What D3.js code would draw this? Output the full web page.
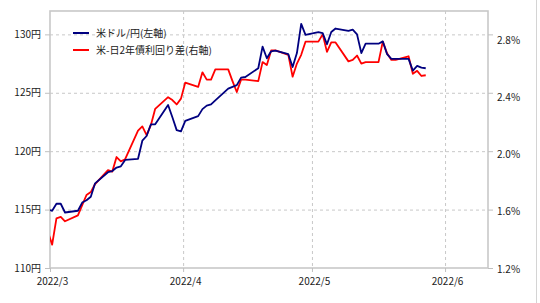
<!DOCTYPE html>
<html><head><meta charset="utf-8">
<script src="https://cdn.jsdelivr.net/npm/d3@7"></script>
<style>
html,body{margin:0;padding:0;background:#fff;}
svg{display:block;font-family:"Noto Sans CJK JP","Noto Sans",sans-serif;}
</style></head>
<body><svg id="c" width="540" height="303"></svg>
<script>
const dates = ["2022-02-28","2022-03-01","2022-03-02","2022-03-03","2022-03-04","2022-03-07","2022-03-08","2022-03-09","2022-03-10","2022-03-11",
"2022-03-14","2022-03-15","2022-03-16","2022-03-17","2022-03-18","2022-03-21","2022-03-22","2022-03-23","2022-03-24","2022-03-25",
"2022-03-28","2022-03-29","2022-03-30","2022-03-31","2022-04-01","2022-04-04","2022-04-05","2022-04-06","2022-04-07","2022-04-08",
"2022-04-11","2022-04-12","2022-04-13","2022-04-14","2022-04-15","2022-04-18","2022-04-19","2022-04-20","2022-04-21","2022-04-22",
"2022-04-25","2022-04-26","2022-04-27","2022-04-28","2022-04-29","2022-05-02","2022-05-03","2022-05-04","2022-05-05","2022-05-06",
"2022-05-09","2022-05-10","2022-05-11","2022-05-12","2022-05-13","2022-05-16","2022-05-17","2022-05-18","2022-05-19","2022-05-20",
"2022-05-23","2022-05-24","2022-05-25","2022-05-26","2022-05-27"];
const usdjpy = [115.0,114.9,115.5,115.5,114.75,114.9,115.6,115.8,116.1,117.25,
118.2,118.3,118.6,118.7,119.25,119.35,120.9,121.3,122.3,122.3,
123.95,122.9,121.8,121.7,122.6,123.0,123.6,123.9,124.0,124.35,
125.35,125.5,125.65,126.3,126.35,127.1,128.95,127.95,128.55,128.6,
128.3,127.2,128.4,130.9,129.95,130.2,130.1,129.15,130.2,130.5,
130.3,130.4,130.0,128.4,129.2,129.2,129.4,128.3,127.9,127.9,
127.9,126.9,127.3,127.15,127.1];
const spread = [1.45,1.36,1.54,1.55,1.52,1.56,1.63,1.70,1.72,1.775,
1.87,1.86,1.96,1.93,1.945,2.14,2.17,2.11,2.18,2.29,
2.37,2.35,2.32,2.36,2.47,2.44,2.54,2.49,2.49,2.56,
2.56,2.48,2.405,2.49,2.49,2.48,2.61,2.59,2.69,2.69,
2.66,2.51,2.60,2.66,2.75,2.75,2.80,2.68,2.745,2.745,
2.615,2.625,2.655,2.60,2.61,2.61,2.75,2.67,2.625,2.625,
2.65,2.53,2.55,2.515,2.52];
const leftTicks = [110,115,120,125,130];
const rightTicks = [1.2,1.6,2.0,2.4,2.8];
const monthTicks = ["2022-03-01","2022-04-01","2022-05-01","2022-06-01"];
const seriesNames = ["米ドル/円(左軸)","米-日2年債利回り差(右軸)"];
const seriesColors = ["#000080","#ff0000"];

const parse = d3.timeParse("%Y-%m-%d");
const svg = d3.select("#c");
const L=50,R=488,T=11,B=268;
const x = d3.scaleTime().domain([parse("2022-03-01"), parse("2022-06-11")]).range([L,R]);
const yL = d3.scaleLinear().domain([110,132]).range([B,T]);
const yR = d3.scaleLinear().domain([1.2,2.96]).range([B,T]);
const yRlab = d3.scaleLinear().domain([1.2,2.8]).range([B+1,T+29]);
const mid = d => d3.timeHour.offset(parse(d),12);

// outer frame line
svg.append("line").attr("x1",536.5).attr("x2",536.5).attr("y1",0).attr("y2",303).attr("stroke","#d4d4d4").attr("stroke-width",1);

// gridlines
const g = svg.append("g");
g.selectAll("line.h").data(leftTicks.filter(v=>v>110)).join("line")
 .attr("x1",L).attr("x2",R).attr("y1",d=>yL(d)+0.5).attr("y2",d=>yL(d)+0.5)
 .attr("stroke","#c8c8c8").attr("stroke-dasharray","3,3");
g.selectAll("line.v").data(monthTicks.slice(1)).join("line")
 .attr("x1",d=>x(parse(d))+0.5).attr("x2",d=>x(parse(d))+0.5).attr("y1",T).attr("y2",B)
 .attr("stroke","#c8c8c8").attr("stroke-dasharray","3,3");

// plot frame
svg.append("rect").attr("x",L).attr("y",T).attr("width",R-L).attr("height",B-T)
 .attr("fill","none").attr("stroke","#c8c8c8").attr("stroke-width",1.6);

// axes
const axL = svg.append("g").attr("transform",`translate(${L},0)`)
 .call(d3.axisLeft(yL).tickValues(leftTicks).tickFormat(d=>d+"円").tickSize(5).tickPadding(4));
const axR = svg.append("g").attr("transform",`translate(${R},0)`)
 .call(d3.axisRight(yR).tickValues(rightTicks).tickFormat(d=>d.toFixed(1)+"%").tickSize(5).tickPadding(4));
axR.selectAll("text").attr("y",d=>yRlab(d)-yR(d));
const axB = svg.append("g").attr("transform",`translate(0,${B})`)
 .call(d3.axisBottom(x).tickValues(monthTicks.map(parse)).tickFormat(d3.timeFormat("%Y/%-m")).tickSize(4).tickPadding(6));
axB.selectAll("text").attr("dx",2);
[axL,axR,axB].forEach(a=>{
  a.select(".domain").remove();
  a.selectAll("line").attr("stroke","#c0c0c0");
  a.selectAll("text").attr("fill","#222").style("font-size","10px").style("font-family",'"Noto Sans CJK JP",sans-serif');
});

// clip
svg.append("clipPath").attr("id","clip").append("rect").attr("x",L).attr("y",T).attr("width",R-L).attr("height",B-T);

const lineL = d3.line().x((d,i)=>x(mid(dates[i]))).y(d=>yL(d));
const lineR = d3.line().x((d,i)=>x(mid(dates[i]))).y(d=>yR(d));
const lg = svg.append("g").attr("clip-path","url(#clip)");
lg.append("path").datum(spread).attr("d",lineR).attr("fill","none").attr("stroke",seriesColors[1]).attr("stroke-width",1.8).attr("stroke-linejoin","round");
lg.append("path").datum(usdjpy).attr("d",lineL).attr("fill","none").attr("stroke",seriesColors[0]).attr("stroke-width",1.8).attr("stroke-linejoin","round");

// legend
const leg = svg.append("g");
seriesNames.forEach((n,i)=>{
  const yy = 33 + i*17;
  leg.append("line").attr("x1",73).attr("x2",89).attr("y1",yy).attr("y2",yy).attr("stroke",seriesColors[i]).attr("stroke-width",2);
  leg.append("text").attr("x",96).attr("y",yy).attr("dy","0.35em").attr("fill","#222")
   .style("font-size","10px").text(n);
});
</script></body></html>
